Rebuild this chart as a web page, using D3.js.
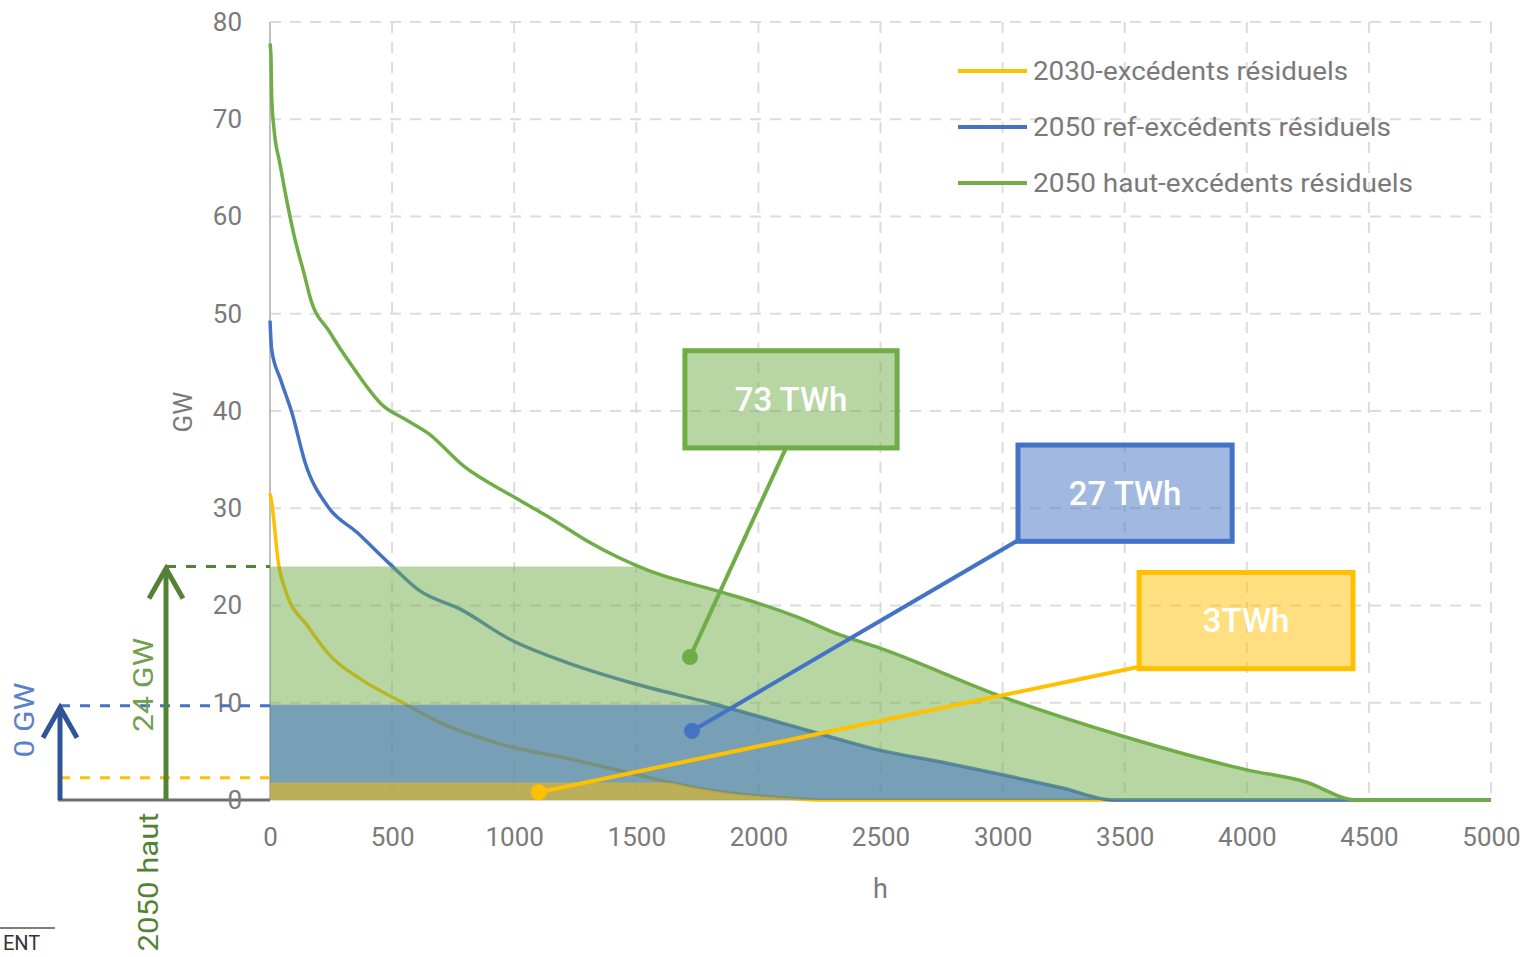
<!DOCTYPE html>
<html><head><meta charset="utf-8">
<script src="https://cdn.jsdelivr.net/npm/d3@7"></script>
<style>
body{margin:0;background:#fff;}
svg{display:block;font-family:Roboto,"Open Sans",sans-serif;}
</style>
</head><body><svg id="c" width="1537" height="957"></svg>
<script>
// ---------- data ----------
const seriesNames = ["2030-excédents résiduels", "2050 ref-excédents résiduels", "2050 haut-excédents résiduels"];
const hours2030 = [0, 5, 36, 67, 154, 248, 373, 545, 702, 937, 1251, 1486, 1799, 2113, 2270, 5000];
const gw2030    = [31.5, 30.9, 24.1, 21.3, 17.9, 14.8, 12.4, 10.0, 7.9, 5.8, 4.1, 2.7, 1.0, 0.2, 0, 0];
const hoursRef  = [0, 7, 44, 90, 145, 236, 357, 498, 608, 781, 984, 1219, 1486, 1799, 2113, 2364, 2500, 2750, 3000, 3250, 3450, 5000];
const gwRef     = [49.3, 46.3, 43.2, 39.8, 34.6, 30.2, 27.5, 24.1, 21.6, 19.6, 16.5, 14.1, 12.0, 10.0, 7.8, 6.0, 5.1, 3.9, 2.6, 1.2, 0, 0];
const hoursHaut = [0, 4, 7, 16, 40, 62, 99, 145, 163, 245, 337, 465, 550, 648, 795, 996, 1161, 1308, 1549, 1831, 2003, 2171, 2332, 2500, 3000, 3500, 4000, 4235, 4450, 5000];
const gwHaut    = [77.8, 76.5, 72.2, 69.1, 65.5, 62.5, 58.0, 53.6, 51.8, 48.1, 44.6, 40.5, 39.2, 37.7, 34.3, 31.2, 28.8, 26.5, 23.6, 21.5, 20.2, 18.7, 17.0, 15.6, 10.6, 6.5, 3.1, 1.9, 0, 0];
const capGW       = [1.8, 9.8, 24];            // capacity levels shaded per series
const capMarkerGW = [2.3, 9.7, 24];            // dashed reference levels at left
const energyLabels = ["3TWh", "27 TWh", "73 TWh"];
const dotHours = [1101, 1728, 1720];
const dotGW    = [0.8, 7.1, 14.7];
const xTickValues = [0, 500, 1000, 1500, 2000, 2500, 3000, 3500, 4000, 4500, 5000];
const yTickValues = [0, 10, 20, 30, 40, 50, 60, 70, 80];
const leftLabels = ["0 GW", "24 GW", "2050 haut"];

// ---------- layout / style ----------
const colors = ["#ffc000", "#4472c4", "#70ad47"];
const fillOpacity = [0.5, 0.55, 0.5];
const svg = d3.select("#c");
const x = d3.scaleLinear().domain([0, 5000]).range([270, 1491]);
const y = d3.scaleLinear().domain([0, 80]).range([800, 22]);
const series = [
  d3.zip(hours2030, gw2030),
  d3.zip(hoursRef, gwRef),
  d3.zip(hoursHaut, gwHaut)
];
// boxes in data coords: [h0, h1, gwTop, gwBottom], leader start [h, gw]
const boxes = [
  {b:[3559, 4435, 23.4, 13.5], s:[3559, 13.7]},
  {b:[3063, 3940, 36.5, 26.6], s:[3063, 26.7]},
  {b:[1699, 2568, 46.2, 36.2], s:[2113, 36.2]}
];
const textGray = "#7a7a7a";

// grid
const grid = svg.append("g");
grid.selectAll("line.v").data(xTickValues.filter(d => d > 0)).join("line")
  .attr("x1", d => x(d)).attr("x2", d => x(d)).attr("y1", y(80)).attr("y2", y(0))
  .attr("stroke", "#dcdcdc").attr("stroke-width", 2).attr("stroke-dasharray", "11,9");
grid.selectAll("line.h").data(yTickValues.filter(d => d > 0)).join("line")
  .attr("x1", x(0)).attr("x2", x(5000)).attr("y1", d => y(d)).attr("y2", d => y(d))
  .attr("stroke", "#dcdcdc").attr("stroke-width", 2).attr("stroke-dasharray", "11,9");

// axes lines
svg.append("line").attr("x1", x(0)).attr("x2", x(0)).attr("y1", y(80)).attr("y2", y(0))
  .attr("stroke", "#bfbfbf").attr("stroke-width", 2);
svg.append("line").attr("x1", x(0)).attr("x2", x(5000)).attr("y1", y(0)).attr("y2", y(0))
  .attr("stroke", "#d9d9d9").attr("stroke-width", 2);
svg.append("line").attr("x1", 58).attr("x2", x(0)).attr("y1", y(0)).attr("y2", y(0))
  .attr("stroke", "#6e6e6e").attr("stroke-width", 3);

// tick labels via axes
const yAxis = svg.append("g").attr("transform", `translate(${x(0) - 28},0)`)
  .call(d3.axisLeft(y).tickValues(yTickValues).tickSize(0).tickPadding(0));
yAxis.select(".domain").remove();
yAxis.selectAll("text").attr("fill", textGray).style("font-size", "26px").attr("font-family", "Roboto");
const xAxis = svg.append("g").attr("transform", `translate(0,${y(0) + 28})`)
  .call(d3.axisBottom(x).tickValues(xTickValues).tickFormat(d3.format("d")).tickSize(0).tickPadding(0));
xAxis.select(".domain").remove();
xAxis.selectAll("text").attr("fill", textGray).style("font-size", "26px").attr("font-family", "Roboto");

svg.append("text").attr("x", x(2500)).attr("y", 898).attr("text-anchor", "middle")
  .attr("fill", textGray).style("font-size", "27px").text("h");
svg.append("text").attr("transform", `translate(192,412) rotate(-90)`).attr("text-anchor", "middle")
  .attr("fill", textGray).style("font-size", "26px").text("GW");

// curves
const line = d3.line().x(d => x(d[0])).y(d => y(d[1])).curve(d3.curveMonotoneX);
const area = d3.area().x(d => x(d[0])).y0(y(0)).y1(d => y(d[1])).curve(d3.curveMonotoneX);
series.forEach((s, i) => {
  svg.append("path").attr("d", line(s)).attr("fill", "none")
    .attr("stroke", colors[i]).attr("stroke-width", 3.5).attr("stroke-linejoin", "round");
});
// shaded energy areas (clipped at capacity level), drawn on top, widest first
const defs = svg.append("defs");
[2, 1, 0].forEach(i => {
  defs.append("clipPath").attr("id", "cap" + i).append("rect")
    .attr("x", x(0)).attr("width", x(5000) - x(0))
    .attr("y", y(capGW[i])).attr("height", y(0) - y(capGW[i]));
  svg.append("path").attr("d", area(series[i])).attr("clip-path", `url(#cap${i})`)
    .attr("fill", colors[i]).attr("fill-opacity", fillOpacity[i]);
});

// left-side markers
const arrowX = [60, 166];
const arrowColor = ["#2f5597", "#548235"];
function arrow(xp, topGW, col) {
  svg.append("line").attr("x1", xp).attr("x2", xp).attr("y1", y(0)).attr("y2", y(topGW) + 2)
    .attr("stroke", col).attr("stroke-width", 5);
  svg.append("path").attr("d", `M${xp - 17},${y(topGW) + 32} L${xp},${y(topGW) + 2} L${xp + 17},${y(topGW) + 32}`)
    .attr("fill", "none").attr("stroke", col).attr("stroke-width", 5).attr("stroke-linejoin", "miter");
}
// dashed reference lines
svg.append("line").attr("x1", 60).attr("x2", x(0)).attr("y1", y(capMarkerGW[0])).attr("y2", y(capMarkerGW[0]))
  .attr("stroke", "#ffc000").attr("stroke-width", 3).attr("stroke-dasharray", "10,10");
svg.append("line").attr("x1", 60).attr("x2", x(0)).attr("y1", y(capMarkerGW[1])).attr("y2", y(capMarkerGW[1]))
  .attr("stroke", "#4472c4").attr("stroke-width", 3).attr("stroke-dasharray", "10,10");
svg.append("line").attr("x1", 166).attr("x2", x(0)).attr("y1", y(capMarkerGW[2])).attr("y2", y(capMarkerGW[2]))
  .attr("stroke", "#548235").attr("stroke-width", 3).attr("stroke-dasharray", "10,10");
arrow(arrowX[0], capMarkerGW[1], arrowColor[0]);
arrow(arrowX[1], capMarkerGW[2], arrowColor[1]);

svg.append("text").attr("transform", `translate(34,720) rotate(-90)`).attr("text-anchor", "middle")
  .attr("fill", "#5b82c8").style("font-size", "27px")
  .attr("textLength", 75).attr("lengthAdjust", "spacingAndGlyphs").text(leftLabels[0]);
svg.append("text").attr("transform", `translate(153,685) rotate(-90)`).attr("text-anchor", "middle")
  .attr("fill", "#70a050").style("font-size", "27px")
  .attr("textLength", 94).attr("lengthAdjust", "spacingAndGlyphs").text(leftLabels[1]);
svg.append("text").attr("transform", `translate(158,882) rotate(-90)`).attr("text-anchor", "middle")
  .attr("fill", "#548235").style("font-size", "27px")
  .attr("textLength", 139).attr("lengthAdjust", "spacingAndGlyphs").text(leftLabels[2]);

// fragment at bottom-left
svg.append("line").attr("x1", 0).attr("x2", 55).attr("y1", 928).attr("y2", 928).attr("stroke", "#555").attr("stroke-width", 1.5);
svg.append("text").attr("x", 3).attr("y", 950).attr("fill", "#333").style("font-size", "20px").text("ENT");

// annotations
[2, 1, 0].forEach(i => {
  const bx = boxes[i].b, st = boxes[i].s;
  svg.append("line").attr("x1", x(st[0])).attr("y1", y(st[1])).attr("x2", x(dotHours[i])).attr("y2", y(dotGW[i]))
    .attr("stroke", colors[i]).attr("stroke-width", 4);
  svg.append("circle").attr("cx", x(dotHours[i])).attr("cy", y(dotGW[i])).attr("r", 8).attr("fill", colors[i]);
  svg.append("rect").attr("x", x(bx[0])).attr("y", y(bx[2])).attr("width", x(bx[1]) - x(bx[0])).attr("height", y(bx[3]) - y(bx[2]))
    .attr("fill", colors[i]).attr("fill-opacity", 0.5).attr("stroke", colors[i]).attr("stroke-width", 5);
  svg.append("text").attr("x", (x(bx[0]) + x(bx[1])) / 2).attr("y", (y(bx[2]) + y(bx[3])) / 2)
    .attr("text-anchor", "middle").attr("dominant-baseline", "central")
    .attr("fill", "#fff").style("font-size", "33px").style("font-weight", "500").text(energyLabels[i]);
});

// legend
const legendY = [71, 127, 183];
const legendW = [315, 358, 380];
seriesNames.forEach((n, i) => {
  svg.append("line").attr("x1", 958).attr("x2", 1027).attr("y1", legendY[i]).attr("y2", legendY[i])
    .attr("stroke", colors[i]).attr("stroke-width", 4);
  svg.append("text").attr("x", 1033).attr("y", legendY[i]).attr("dominant-baseline", "central")
    .attr("fill", textGray).style("font-size", "25px")
    .attr("textLength", legendW[i]).attr("lengthAdjust", "spacingAndGlyphs").text(n);
});
</script>
</body></html>
